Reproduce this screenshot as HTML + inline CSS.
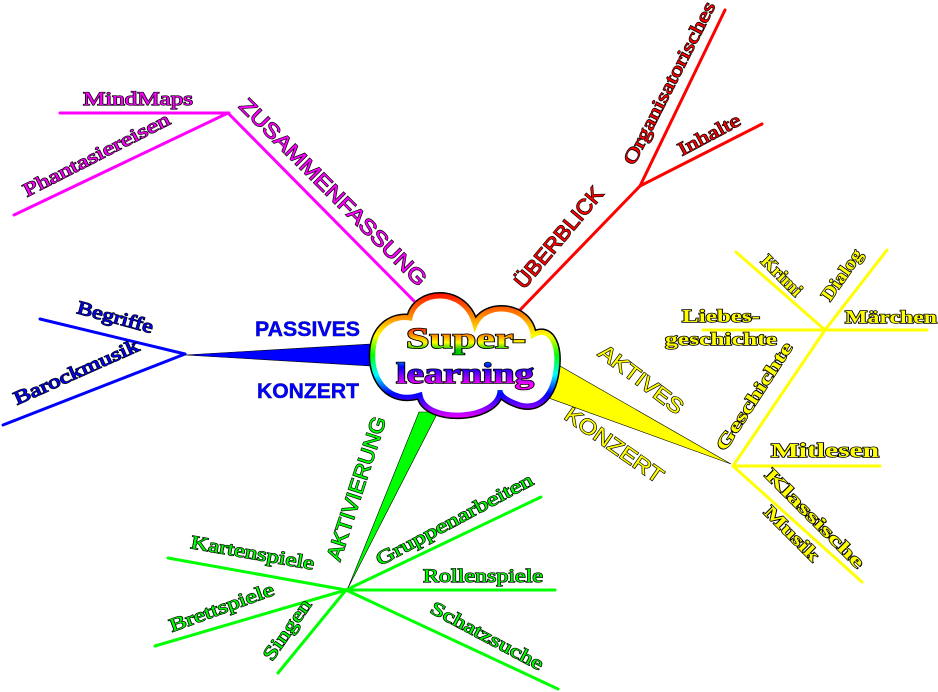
<!DOCTYPE html>
<html><head><meta charset="utf-8"><style>html,body{margin:0;padding:0;background:#fff}svg{display:block}text{paint-order:stroke}</style></head><body>
<svg width="938" height="692" viewBox="0 0 938 692" xmlns="http://www.w3.org/2000/svg">
<defs>
<linearGradient id="rb" x1="0" y1="290" x2="0" y2="420" gradientUnits="userSpaceOnUse">
<stop offset="0" stop-color="#f00"/><stop offset=".2" stop-color="#f80"/><stop offset=".35" stop-color="#ff0"/><stop offset=".5" stop-color="#0f0"/><stop offset=".65" stop-color="#0ff"/><stop offset=".8" stop-color="#00f"/><stop offset="1" stop-color="#f0f"/></linearGradient>
<linearGradient id="t1" x1="0" y1="325" x2="0" y2="350" gradientUnits="userSpaceOnUse">
<stop offset="0" stop-color="#f00"/><stop offset=".4" stop-color="#f80"/><stop offset=".7" stop-color="#ff0"/><stop offset="1" stop-color="#0c0"/></linearGradient>
<linearGradient id="t2" x1="0" y1="355" x2="0" y2="385" gradientUnits="userSpaceOnUse">
<stop offset="0" stop-color="#0ff"/><stop offset=".4" stop-color="#00f"/><stop offset=".7" stop-color="#80f"/><stop offset="1" stop-color="#f0f"/></linearGradient>
</defs>
<g stroke-linecap="round" fill="none">
<g stroke="#f0f" stroke-width="3"><line x1="60" y1="113" x2="229" y2="113"/><line x1="14" y1="215" x2="228" y2="113"/><line x1="228" y1="113" x2="415" y2="302"/></g>
<g stroke="#f00" stroke-width="3"><line x1="520" y1="310" x2="640" y2="186"/><line x1="640" y1="186" x2="725" y2="10"/><line x1="640" y1="186" x2="762" y2="124"/></g>
<g stroke="#00f" stroke-width="3"><line x1="40" y1="319" x2="185" y2="354"/><line x1="3" y1="425" x2="185" y2="354"/></g>
<g stroke="#ff0" stroke-width="3"><line x1="733" y1="466" x2="880" y2="466"/><line x1="733" y1="466" x2="862" y2="582"/><line x1="733" y1="466" x2="825" y2="330"/><line x1="703" y1="330" x2="927" y2="330"/><line x1="736" y1="252" x2="825" y2="330"/><line x1="887" y1="250" x2="825" y2="330"/></g>
<g stroke="#0f0" stroke-width="3"><line x1="168" y1="558" x2="346" y2="590"/><line x1="155" y1="646" x2="346" y2="590"/><line x1="278" y1="673" x2="346" y2="590"/><line x1="346" y1="590" x2="541" y2="497"/><line x1="346" y1="590" x2="555" y2="590"/><line x1="346" y1="590" x2="558" y2="689"/></g>
</g>
<polygon points="372,344 372,366 185,355" fill="#00f" stroke="#000" stroke-width=".6"/>
<polygon points="553,362 546,397 731,464" fill="#ff0" stroke="#000" stroke-width=".6"/>
<polygon points="419,412 438,412 348,588" fill="#0f0" stroke="#000" stroke-width=".6"/>
<path d="M410,318 C415,290 465,285 475,325 C485,300 530,305 533,335 C550,325 560,345 556,370 C553,395 540,410 520,405 C505,400 500,395 500,390 C500,420 425,425 420,395 C390,405 370,380 373,350 C375,325 395,315 410,318 Z" fill="#fff" stroke="#000" stroke-width="8"/>
<path d="M410,318 C415,290 465,285 475,325 C485,300 530,305 533,335 C550,325 560,345 556,370 C553,395 540,410 520,405 C505,400 500,395 500,390 C500,420 425,425 420,395 C390,405 370,380 373,350 C375,325 395,315 410,318 Z" fill="#fff" stroke="url(#rb)" stroke-width="5"/>
<g font-family="Liberation Serif, serif" font-weight="bold" font-size="30" stroke="#000" stroke-width="1.6" text-anchor="middle">
<text x="466" y="348" fill="url(#t1)" textLength="120" lengthAdjust="spacingAndGlyphs">Super-</text>
<text x="465" y="383" fill="url(#t2)" textLength="138" lengthAdjust="spacingAndGlyphs">learning</text>
</g>
<g font-family="Liberation Serif, serif" font-size="19" stroke="#000" stroke-width="1.3">
<g fill="#f0f">
<text x="83" y="105" textLength="110" lengthAdjust="spacingAndGlyphs">MindMaps</text>
<text transform="translate(27,197) rotate(-27)" textLength="162" lengthAdjust="spacingAndGlyphs">Phantasiereisen</text>
</g>
<g fill="#00f">
<text transform="translate(76,313) rotate(15)" textLength="78" lengthAdjust="spacingAndGlyphs">Begriffe</text>
<text transform="translate(17,405) rotate(-24)" textLength="135" lengthAdjust="spacingAndGlyphs">Barockmusik</text>
</g>
<g fill="#f00">
<text transform="translate(634,166) rotate(-63)" textLength="180" lengthAdjust="spacingAndGlyphs">Organisatorisches</text>
<text transform="translate(682,156) rotate(-28)" textLength="68" lengthAdjust="spacingAndGlyphs">Inhalte</text>
</g>
<g fill="#0f0">
<text transform="translate(190,548) rotate(10)" textLength="125" lengthAdjust="spacingAndGlyphs">Kartenspiele</text>
<text transform="translate(172,632) rotate(-20)" textLength="110" lengthAdjust="spacingAndGlyphs">Brettspiele</text>
<text transform="translate(272,662) rotate(-55)" textLength="70" lengthAdjust="spacingAndGlyphs">Singen</text>
<text transform="translate(380,566) rotate(-28)" textLength="175" lengthAdjust="spacingAndGlyphs">Gruppenarbeiten</text>
<text x="423" y="582" textLength="120" lengthAdjust="spacingAndGlyphs">Rollenspiele</text>
<text transform="translate(429,612) rotate(28)" textLength="125" lengthAdjust="spacingAndGlyphs">Schatzsuche</text>
</g>
</g>
<g font-family="Liberation Sans, sans-serif" font-size="21" stroke="#000" stroke-width="1.3">
<text fill="#f0f" transform="translate(238,107) rotate(45)" textLength="255" lengthAdjust="spacingAndGlyphs">ZUSAMMENFASSUNG</text>
<text fill="#00f" font-weight="bold" stroke-width=".4" x="255" y="336" textLength="105" lengthAdjust="spacingAndGlyphs">PASSIVES</text>
<text fill="#00f" font-weight="bold" stroke-width=".4" x="257" y="398" textLength="102" lengthAdjust="spacingAndGlyphs">KONZERT</text>
<text fill="#f00" transform="translate(524,290) rotate(-50)" textLength="125" lengthAdjust="spacingAndGlyphs">ÜBERBLICK</text>
<text fill="#ff0" transform="translate(597,355) rotate(37)" textLength="100" lengthAdjust="spacingAndGlyphs">AKTIVES</text>
<text fill="#ff0" transform="translate(563,418) rotate(35)" textLength="115" lengthAdjust="spacingAndGlyphs">KONZERT</text>
<text fill="#0f0" transform="translate(340,562) rotate(-72)" textLength="150" lengthAdjust="spacingAndGlyphs">AKTIVIERUNG</text>
</g>
<g font-family="Liberation Serif, serif" font-weight="bold" font-size="18" fill="#ff0" stroke="#000" stroke-width="1.5">
<text transform="translate(760,262) rotate(45)" textLength="50" lengthAdjust="spacingAndGlyphs">Krimi</text>
<text transform="translate(830,302) rotate(-55)" textLength="58" lengthAdjust="spacingAndGlyphs">Dialog</text>
<text x="682" y="322" textLength="78" lengthAdjust="spacingAndGlyphs">Liebes-</text>
<text x="665" y="345" textLength="112" lengthAdjust="spacingAndGlyphs">geschichte</text>
<text x="845" y="323" textLength="92" lengthAdjust="spacingAndGlyphs">Märchen</text>
<text transform="translate(725,452) rotate(-57)" textLength="125" lengthAdjust="spacingAndGlyphs">Geschichte</text>
<text x="771" y="457" font-size="20" textLength="108" lengthAdjust="spacingAndGlyphs">Mitlesen</text>
<text transform="translate(764,476) rotate(45)" textLength="132" lengthAdjust="spacingAndGlyphs">Klassische</text>
<text transform="translate(763,513) rotate(45)" textLength="70" lengthAdjust="spacingAndGlyphs">Musik</text>
</g>
</svg>
</body></html>
